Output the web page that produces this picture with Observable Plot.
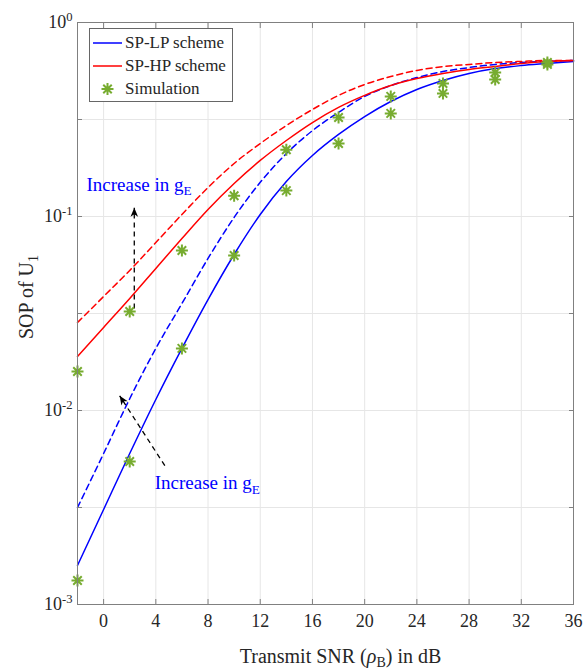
<!DOCTYPE html>
<html>
<head>
<meta charset="utf-8">
<script src="https://cdn.jsdelivr.net/npm/d3@7"></script>
<script src="https://cdn.jsdelivr.net/npm/@observablehq/plot@0.6"></script>
<style>
  body { margin: 0; background: #fff; }
  #wrap { position: relative; width: 584px; height: 669px; font-family: "Liberation Serif", serif; }
  #legend { position: absolute; left: 89px; top: 28px; width: 142px; height: 72px;
            border: 1px solid #666; background: #fff; color: #262626; font-size: 17px; }
  #legend .row { position: absolute; left: 0; height: 20px; display: flex; align-items: center; }
  #legend svg { margin-left: 3px; margin-right: 3px; }
</style>
</head>
<body>
<div id="wrap"><div id="legend"></div></div>
<script>
// Transmit SNR grid (dB)
const snr = [-2, 0, 2, 4, 6, 8, 10, 12, 14, 16, 18, 20, 22, 24, 26, 28, 30, 32, 34, 36];

// Analytical SOP of U1, SP-LP scheme (solid / dashed g_E settings)
const lpSolid  = [0.00159, 0.00309, 0.0060, 0.0114, 0.0209, 0.0373, 0.0637, 0.1024, 0.1514, 0.2063,
                  0.2648, 0.3275, 0.3915, 0.4515, 0.5023, 0.546, 0.579, 0.600, 0.615, 0.630];
const lpDashed = [0.00316, 0.0060, 0.0115, 0.0209, 0.0356, 0.0608, 0.0989, 0.150, 0.211, 0.277,
                  0.344, 0.416, 0.473, 0.520, 0.559, 0.586, 0.608, 0.622, 0.630, 0.637];

// Analytical SOP of U1, SP-HP scheme
const hpSolid  = [0.0190, 0.0268, 0.0378, 0.0540, 0.0770, 0.1087, 0.148, 0.1945, 0.2465, 0.305,
                  0.365, 0.421, 0.473, 0.514, 0.546, 0.573, 0.593, 0.615, 0.630, 0.637];
const hpDashed = [0.0284, 0.0387, 0.0527, 0.0734, 0.1024, 0.141, 0.1876, 0.2378, 0.2944, 0.3561,
                  0.421, 0.479, 0.527, 0.566, 0.593, 0.608, 0.622, 0.630, 0.637, 0.637];

// Monte-Carlo simulation points
const simSnr = [-2, 2, 6, 10, 14, 18, 22, 26, 30, 34];
const simHP  = [0.0159, 0.0324, 0.0668, 0.128, 0.221, 0.324, 0.416, 0.485, 0.552, 0.622];
const simLP  = [0.00133, 0.00546, 0.0209, 0.063, 0.136, 0.238, 0.340, 0.431, 0.508, 0.608];

// Axis ticks
const xTicks = [0, 4, 8, 12, 16, 20, 24, 28, 32, 36];
const yTicks = [1e-3, Math.pow(10, -2.5), 1e-2, Math.pow(10, -1.5), 1e-1, Math.pow(10, -0.5), 1];

// Annotations: "Increase in g_E" notes and their arrows (tail -> head)
const noteText = ["Increase in g_{E}", "Increase in g_{E}"];
const noteX = [-1.31, 3.92];
const noteY = [0.136, 0.00392];
const arrowX1 = [2.35, 4.69];
const arrowY1 = [0.0336, 0.0052];
const arrowX2 = [2.35, 1.23];
const arrowY2 = [0.111, 0.0119];

const legendLabels = ["SP-LP scheme", "SP-HP scheme", "Simulation"];
const xTitle = "Transmit SNR (*ρ*_{B}) in dB";
const yTitle = "SOP of U_{1}";

// ---- layout & styles ----
const W = 584, H = 669;
const M = {top: 22, right: 11, bottom: 65, left: 77};
const BLUE = "#0000ff", RED = "#ff0000", GREEN = "#77ac30";
const AXIS = "#808080", TEXT = "#262626", GRID = "#e6e6e6";

const series = (ys) => snr.map((x, i) => ({x, y: ys[i]}));
const sims = [
  ...simSnr.map((x, i) => ({x, y: simHP[i]})),
  ...simSnr.map((x, i) => ({x, y: simLP[i]}))
];
const notes = noteText.map((t, i) => ({t, x: noteX[i], y: noteY[i]}));

const xDomain = [-2, 36], yDomain = [1e-3, 1];
const sx = Plot.scale({x: {domain: xDomain, range: [M.left, W - M.right]}});
const sy = Plot.scale({y: {type: "log", domain: yDomain, range: [H - M.bottom, M.top]}});
const arrows = arrowX1.map((_, i) => {
  const dx = sx.apply(arrowX2[i]) - sx.apply(arrowX1[i]);
  const dy = sy.apply(arrowY2[i]) - sy.apply(arrowY1[i]);
  return {x1: arrowX1[i], y1: arrowY1[i], x2: arrowX2[i], y2: arrowY2[i],
          angle: Math.atan2(dx, -dy) * 180 / Math.PI};
});

// MATLAB-style 8-spoke asterisk marker
const asterisk8 = {
  draw(ctx, size) {
    const r = Math.sqrt(size / Math.PI), d = r * Math.SQRT1_2;
    ctx.moveTo(-r, 0); ctx.lineTo(r, 0);
    ctx.moveTo(0, -r); ctx.lineTo(0, r);
    ctx.moveTo(-d, -d); ctx.lineTo(d, d);
    ctx.moveTo(-d, d); ctx.lineTo(d, -d);
  }
};
// Arrow head with its tip at the origin, pointing up
const arrowHead = {
  draw(ctx, size) {
    const r = Math.sqrt(size / Math.PI);
    ctx.moveTo(0, 0);
    ctx.lineTo(-r * 0.42, r);
    ctx.lineTo(0, r * 0.72);
    ctx.lineTo(r * 0.42, r);
    ctx.closePath();
  }
};

const isDecade = d => Math.abs(Math.log10(d) - Math.round(Math.log10(d))) < 1e-9;
const curve = (ys, stroke, dashed) => Plot.line(series(ys), {x: "x", y: "y", stroke,
  strokeWidth: 1.5, strokeDasharray: dashed ? "6,4" : null, curve: "monotone-x"});

const chart = Plot.plot({
  width: W, height: H,
  marginTop: M.top, marginRight: M.right, marginBottom: M.bottom, marginLeft: M.left,
  style: {fontFamily: "Liberation Serif, serif", fontSize: "18px", color: TEXT, background: "#fff", overflow: "visible"},
  x: {domain: xDomain},
  y: {type: "log", domain: yDomain},
  marks: [
    Plot.gridX(xTicks, {stroke: GRID, strokeOpacity: 1}),
    Plot.gridY(yTicks, {stroke: GRID, strokeOpacity: 1}),
    curve(lpSolid, BLUE, false),
    curve(lpDashed, BLUE, true),
    curve(hpSolid, RED, false),
    curve(hpDashed, RED, true),
    Plot.link(arrows, {x1: "x1", y1: "y1", x2: "x2", y2: "y2",
      stroke: "#000", strokeWidth: 1.3, strokeDasharray: "5,4"}),
    Plot.dot(arrows, {x: "x2", y: "y2", symbol: arrowHead, r: 9, rotate: "angle",
      fill: "#000", stroke: "none"}),
    Plot.dot(sims, {x: "x", y: "y", symbol: asterisk8, r: 6,
      stroke: GREEN, strokeWidth: 2, fill: "none"}),
    Plot.text(notes, {x: "x", y: "y", text: "t", fill: BLUE, fontSize: 19,
      textAnchor: "start", lineAnchor: "bottom"}),
    Plot.frame({stroke: AXIS}),
    Plot.axisX(xTicks, {anchor: "bottom", tickSize: -5, tickPadding: 15, stroke: AXIS, fill: TEXT, label: null}),
    Plot.axisX(xTicks, {anchor: "top", tickSize: -5, tickFormat: () => "", stroke: AXIS, label: null}),
    Plot.axisY(yTicks, {anchor: "left", tickSize: -5, tickPadding: 10, stroke: AXIS, fill: TEXT, label: null,
      tickFormat: d => isDecade(d) ? `10^{${Math.round(Math.log10(d))}}` : ""}),
    Plot.axisY(yTicks, {anchor: "right", tickSize: -5, tickFormat: () => "", stroke: AXIS, label: null}),
    Plot.text([xTitle], {frameAnchor: "bottom", dx: 15, dy: 58,
      lineAnchor: "bottom", fontSize: 20, fill: TEXT})
  ]
});

document.getElementById("wrap").prepend(chart);

// Rotated y-axis title, baseline just left of the tick labels
d3.select(chart).append("text")
  .attr("transform", `translate(${M.left - 44},297) rotate(-90)`)
  .attr("text-anchor", "middle")
  .attr("font-size", 20)
  .attr("fill", TEXT)
  .text(yTitle);

// Turn _{..} / ^{..} / *..* markup into sub/superscript and italic tspans
function richText(root) {
  const ns = "http://www.w3.org/2000/svg";
  root.querySelectorAll("text").forEach(el => {
    const s = el.textContent;
    if (!/[_^]\{|\*/.test(s)) return;
    const fs = parseFloat(getComputedStyle(el).fontSize);
    el.textContent = "";
    let shift = 0;
    for (const m of s.matchAll(/([_^])\{([^}]*)\}|\*([^*]*)\*|([^_^*]+)/g)) {
      const t = document.createElementNS(ns, "tspan");
      let target = 0;
      if (m[1]) {
        t.textContent = m[2];
        t.setAttribute("font-size", (fs * 0.7).toFixed(1));
        target = m[1] === "_" ? fs * 0.24 : -fs * 0.42;
      } else if (m[3]) {
        t.textContent = m[3];
        t.setAttribute("font-style", "italic");
      } else {
        t.textContent = m[4];
      }
      const dy = target - shift;
      if (dy) t.setAttribute("dy", dy.toFixed(1));
      shift = target;
      el.appendChild(t);
    }
  });
}
richText(chart);

// Legend
const legend = d3.select("#legend");
const rowCenters = [14, 37, 60];
const swatches = [
  {stroke: BLUE, kind: "line"},
  {stroke: RED, kind: "line"},
  {stroke: GREEN, kind: "marker"}
];
legendLabels.forEach((label, i) => {
  const row = legend.append("div").attr("class", "row").style("top", (rowCenters[i] - 10) + "px");
  const svg = row.append("svg").attr("width", 29).attr("height", 20);
  if (swatches[i].kind === "line") {
    svg.append("line").attr("x1", 0).attr("x2", 29).attr("y1", 10).attr("y2", 10)
      .attr("stroke", swatches[i].stroke).attr("stroke-width", 1.5);
  } else {
    const p = d3.path(); asterisk8.draw(p, 36 * Math.PI);
    svg.append("path").attr("d", p.toString()).attr("transform", "translate(14.5,10)")
      .attr("stroke", GREEN).attr("stroke-width", 2).attr("fill", "none");
  }
  row.append("span").text(label);
});
</script>
</body>
</html>
